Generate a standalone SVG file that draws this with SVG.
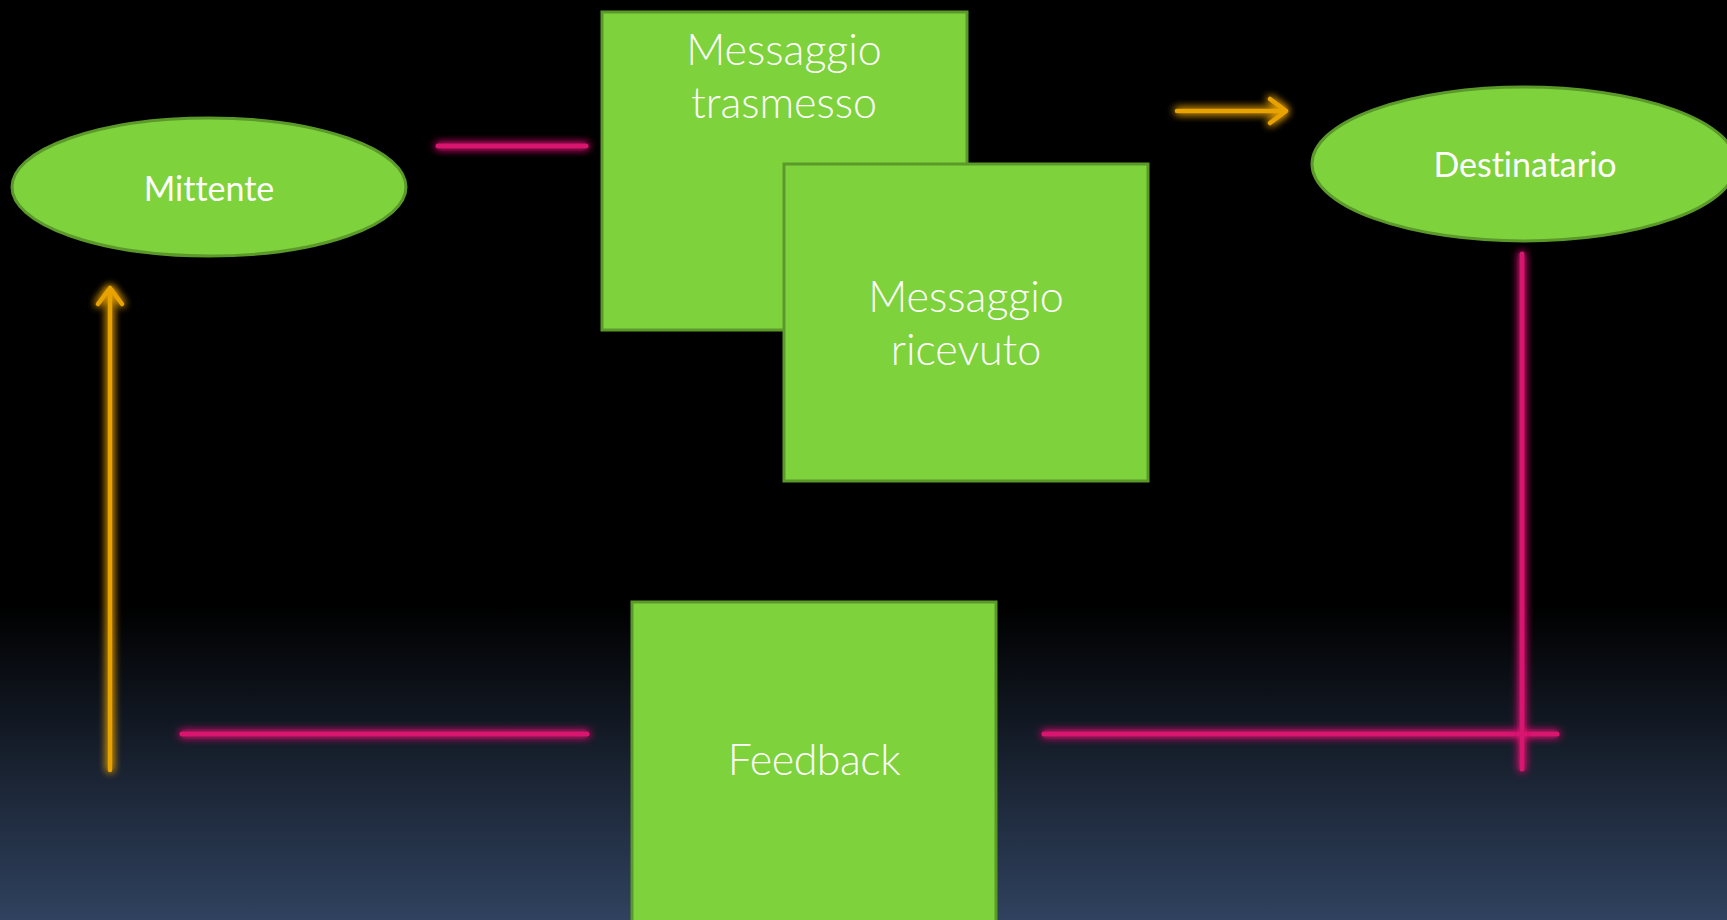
<svg xmlns="http://www.w3.org/2000/svg" width="1727" height="920" viewBox="0 0 1727 920">
<defs>
<linearGradient id="bg" x1="0" y1="0" x2="0" y2="1">
<stop offset="0" stop-color="#000000"/>
<stop offset="0.66" stop-color="#000000"/>
<stop offset="1" stop-color="#30425f"/>
</linearGradient>
<filter id="glowU" filterUnits="userSpaceOnUse" x="0" y="0" width="1727" height="920">
<feGaussianBlur in="SourceGraphic" stdDeviation="4" result="b"/>
<feMerge><feMergeNode in="b"/><feMergeNode in="b"/><feMergeNode in="SourceGraphic"/></feMerge>
</filter>
<style>
.node{fill:#7ed23c;stroke:#5b9a2a;stroke-width:3}
.lbl{fill:#ffffff;font-family:"Lato","Noto Sans",sans-serif;text-anchor:middle;font-variant-ligatures:none}
.big{font-size:43px;font-weight:300}
.small{font-size:34px;font-weight:400}
.pink{stroke:#d81470;stroke-width:5;fill:none;stroke-linecap:round;filter:url(#glowU)}
.orange{stroke:#e9a300;stroke-width:4.5;fill:none;stroke-linecap:round;stroke-linejoin:round;filter:url(#glowU)}
</style>
</defs>
<rect x="0" y="0" width="1727" height="920" fill="url(#bg)"/>
<g id="connectors">
<line class="pink" x1="438" y1="146" x2="586" y2="146"/>
<line class="pink" x1="182" y1="734" x2="587" y2="734"/>
<line class="pink" x1="1044" y1="734" x2="1557" y2="734"/>
<line class="pink" x1="1522" y1="254" x2="1522" y2="769"/>
<path class="orange" d="M1177 111 H1286 M1270 99 L1286 111 L1270 123"/>
<path class="orange" d="M110 770 V288 M98 304 L110 288 L122 304"/>
</g>
<g id="mittente">
<ellipse class="node" cx="209" cy="187" rx="197" ry="69"/>
<text class="lbl small" x="209" y="201">Mittente</text>
</g>
<g id="messaggio-trasmesso">
<rect class="node" x="602" y="12" width="365" height="318"/>
<text class="lbl big" x="784" y="65">Messaggio</text>
<text class="lbl big" x="784" y="118">trasmesso</text>
</g>
<g id="messaggio-ricevuto">
<rect class="node" x="784" y="164" width="364" height="317"/>
<text class="lbl big" x="966" y="312">Messaggio</text>
<text class="lbl big" x="966" y="365">ricevuto</text>
</g>
<g id="destinatario">
<ellipse class="node" cx="1524" cy="164" rx="212" ry="77"/>
<text class="lbl small" x="1525" y="177">Destinatario</text>
</g>
<g id="feedback">
<rect class="node" x="632" y="602" width="364" height="330"/>
<text class="lbl big" x="814" y="775" letter-spacing="-0.5">Feedback</text>
</g>
</svg>
